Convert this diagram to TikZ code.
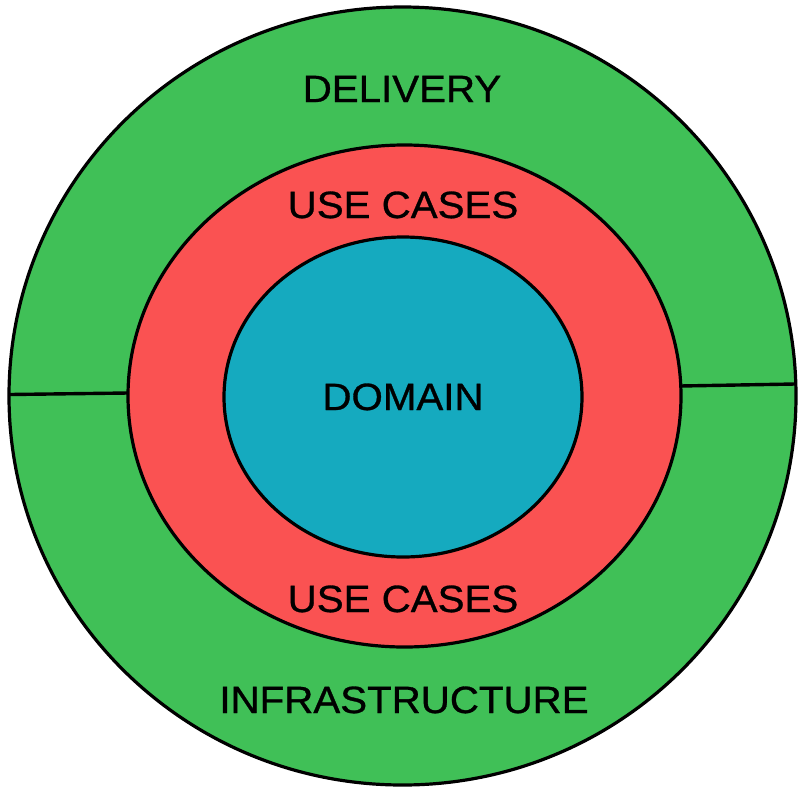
\documentclass[tikz,border=0pt]{standalone}
\usepackage{fontspec}
\setmainfont{Liberation Sans}[FakeBold=0.8]
\definecolor{ringgreen}{HTML}{40C057}
\definecolor{ringred}{HTML}{FA5252}
\definecolor{ringblue}{HTML}{15AABF}
\tikzset{
  ring/.style={draw=black, line width=3.2pt},
  lbl/.style={anchor=base, inner sep=0pt, font=\fontsize{38}{40}\selectfont, xscale=1.06},
  divider/.style={draw=black, line width=3.4pt}
}
\begin{document}
\begin{tikzpicture}[x=1pt,y=-1pt]
\useasboundingbox (0,0) rectangle (806,796);
% outer ring
\path[ring, fill=ringgreen] (402.5,396) ellipse [x radius=393.5, y radius=389];
% red ring
\path[ring, fill=ringred] (404.5,396) ellipse [x radius=276.5, y radius=251];
% blue core
\path[ring, fill=ringblue] (403,397) ellipse [x radius=179, y radius=160];
% dividers
\coordinate (lA) at (10,394.5);
\coordinate (lB) at (128,393);
\coordinate (rA) at (680,386);
\coordinate (rB) at (795,384);
\draw[divider] (lA) -- (lB);
\draw[divider] (rA) -- (rB);
% labels
\node[lbl] (delivery) at (402,102) {DELIVERY};
\node[lbl] (usetop) at (403,218) {USE CASES};
\node[lbl] (domain) at (403,410) {DOMAIN};
\node[lbl] (usebot) at (403,612) {USE CASES};
\node[lbl] (infra) at (404,713) {INFRASTRUCTURE};
\end{tikzpicture}
\end{document}
